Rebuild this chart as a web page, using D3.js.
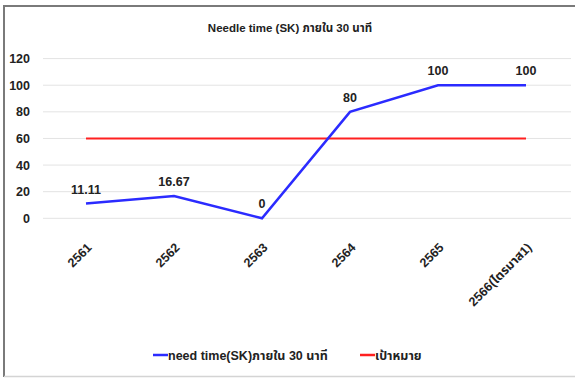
<!DOCTYPE html>
<html>
<head>
<meta charset="utf-8">
<script src="https://cdn.jsdelivr.net/npm/d3@7/dist/d3.min.js"></script>
<style>
  html, body { margin: 0; padding: 0; background: #fff; }
  svg { display: block; }
  text { font-family: "Liberation Sans", "Noto Sans", "Noto Sans Thai", "DejaVu Sans", sans-serif; fill: #222; }
</style>
</head>
<body>
<svg id="chart" width="575" height="378"></svg>
<script>
// Chart data
const categories = ["2561", "2562", "2563", "2564", "2565", "2566(ไตรมาส1)"];
const needleTime = [11.11, 16.67, 0, 80, 100, 100];
const target = [60, 60, 60, 60, 60, 60];
const yTicks = [0, 20, 40, 60, 80, 100, 120];

const titleText = "Needle time (SK) ภายใน 30 นาที";
const seriesNames = ["need time(SK)ภายใน 30 นาที", "เป้าหมาย"];
const seriesColors = ["#2b2bff", "#ff2020"];

const W = 575, H = 378;
const svg = d3.select("#chart");

// Frame around the chart area
svg.append("line").attr("x1", 3).attr("x2", W).attr("y1", 6).attr("y2", 6)
  .attr("stroke", "#7a7a7a").attr("stroke-width", 2);
svg.append("line").attr("x1", 4).attr("x2", 4).attr("y1", 5).attr("y2", H - 1)
  .attr("stroke", "#7a7a7a").attr("stroke-width", 2);
svg.append("line").attr("x1", 4).attr("x2", W).attr("y1", H - 1.5).attr("y2", H - 1.5)
  .attr("stroke", "#d4d4d4").attr("stroke-width", 1.5);

// Scales
const x = d3.scalePoint().domain(categories).range([86, 526]);
const y = d3.scaleLinear().domain([0, 120]).range([218.3, 58.6]);
const plotLeft = 43, plotRight = 571;

// Title
svg.append("text")
  .attr("x", 290).attr("y", 32)
  .attr("text-anchor", "middle")
  .attr("font-size", 11.5).attr("font-weight", "bold")
  .text(titleText);

// Horizontal gridlines
svg.append("g").selectAll("line").data(yTicks).join("line")
  .attr("x1", plotLeft).attr("x2", plotRight)
  .attr("y1", d => y(d)).attr("y2", d => y(d))
  .attr("stroke", "#e3e3e3").attr("stroke-width", 1);

// Y axis labels
const yAxis = d3.axisLeft(y).tickValues(yTicks).tickSize(0).tickPadding(0);
const gy = svg.append("g").attr("transform", "translate(30,0)").call(yAxis);
gy.select(".domain").remove();
gy.attr("font-family", null);
gy.selectAll("text")
  .attr("font-size", 12.5).attr("font-weight", "bold")
  .attr("fill", "#222");

// X axis labels, rotated
const xAxis = d3.axisBottom(x).tickSize(0).tickPadding(0);
const gx = svg.append("g").attr("transform", `translate(0,${y(0)})`).call(xAxis);
gx.select(".domain").remove();
gx.attr("font-family", null);
gx.selectAll("text")
  .attr("font-size", 12.5).attr("font-weight", "bold")
  .attr("fill", "#222")
  .attr("text-anchor", "end")
  .attr("dy", null).attr("y", null)
  .attr("transform", "translate(6,30) rotate(-45)");

// Lines
const line = d3.line().x((d, i) => x(categories[i])).y(d => y(d));

svg.append("path").datum(target)
  .attr("d", line).attr("fill", "none")
  .attr("stroke", seriesColors[1]).attr("stroke-width", 2);

svg.append("path").datum(needleTime)
  .attr("d", line).attr("fill", "none")
  .attr("stroke", seriesColors[0]).attr("stroke-width", 2.5)
  .attr("stroke-linejoin", "miter");

// Value labels
svg.append("g").selectAll("text").data(needleTime).join("text")
  .attr("x", (d, i) => x(categories[i]))
  .attr("y", d => y(d) - 10)
  .attr("text-anchor", "middle")
  .attr("font-size", 12.5).attr("font-weight", "bold")
  .text(d => d3.format("")(d));

// Legend
const legend = svg.append("g").attr("transform", "translate(153,355)");
const item1 = legend.append("g");
item1.append("line").attr("x1", 0).attr("x2", 15).attr("y1", 0).attr("y2", 0)
  .attr("stroke", seriesColors[0]).attr("stroke-width", 2.5);
item1.append("text").attr("x", 15).attr("y", 4.5)
  .attr("font-size", 12.5).attr("font-weight", "bold").text(seriesNames[0]);

const item2 = legend.append("g").attr("transform", "translate(207,0)");
item2.append("line").attr("x1", 0).attr("x2", 15).attr("y1", 0).attr("y2", 0)
  .attr("stroke", seriesColors[1]).attr("stroke-width", 2.5);
item2.append("text").attr("x", 15).attr("y", 4.5)
  .attr("font-size", 12.5).attr("font-weight", "bold").text(seriesNames[1]);
</script>
</body>
</html>
